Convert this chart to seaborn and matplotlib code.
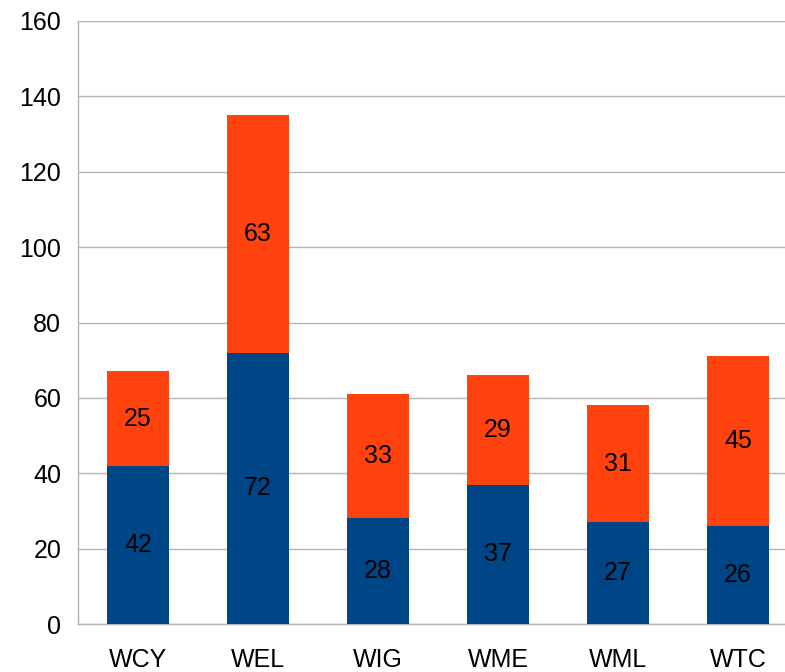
import matplotlib
matplotlib.use("Agg")
import matplotlib.pyplot as plt
import seaborn as sns
import pandas as pd

categories = ['WCY', 'WEL', 'WIG', 'WME', 'WML', 'WTC']
blue_vals = [42, 72, 28, 37, 27, 26]
orange_vals = [25, 63, 33, 29, 31, 45]

df = pd.DataFrame({'cat': categories, 'blue': blue_vals, 'orange': orange_vals})
df['total'] = df['blue'] + df['orange']

sns.set_style('white')
plt.rcParams['font.family'] = ['Liberation Sans', 'DejaVu Sans']

fig = plt.figure(figsize=(7.85, 6.72), dpi=100)
ax = fig.add_axes([78/785, 48/672, 720/785, 603/672])

sns.barplot(data=df, x='cat', y='total', color='#ff420e', width=0.51,
            saturation=1, linewidth=0, ax=ax, zorder=3)
sns.barplot(data=df, x='cat', y='blue', color='#004586', width=0.51,
            saturation=1, linewidth=0, ax=ax, zorder=3)

for i, row in df.iterrows():
    ax.text(i, row['blue'] / 2, str(row['blue']), ha='center', va='center',
            fontsize=18, color='black', zorder=4)
    ax.text(i, row['blue'] + row['orange'] / 2, str(row['orange']),
            ha='center', va='center', fontsize=18, color='black', zorder=4)

ax.set_ylim(0, 160)
ax.set_xlim(-0.5, 5.5)
ax.set_yticks(range(0, 161, 20))
ax.yaxis.grid(True, color='#b3b3b3', linewidth=1, zorder=0)
ax.set_axisbelow(True)
ax.set_xlabel('')
ax.set_ylabel('')

for s in ['top', 'right']:
    ax.spines[s].set_visible(False)
for s in ['left', 'bottom']:
    ax.spines[s].set_color('#b3b3b3')
    ax.spines[s].set_linewidth(1)

# category separators as tick marks
ax.set_xticks([i - 0.5 for i in range(7)], minor=False)
ax.set_xticklabels([])
ax.set_xticks(range(6), minor=True)
ax.set_xticklabels(categories, minor=True)
ax.tick_params(axis='x', which='major', length=9, color='#b3b3b3', width=1)
ax.tick_params(axis='x', which='minor', length=0, labelsize=18, pad=17,
               labelcolor='black')
ax.tick_params(axis='y', length=9, color='#b3b3b3', width=1, labelsize=18,
               pad=3, labelcolor='black')

fig.savefig('out.png', dpi=100)
